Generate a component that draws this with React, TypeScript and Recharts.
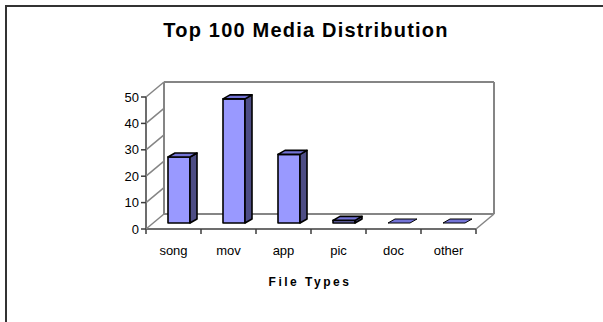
import { BarChart, Bar, XAxis, YAxis, CartesianGrid } from 'recharts'

const categories = ['song', 'mov', 'app', 'pic', 'doc', 'other']
const counts = [25, 47, 26, 1, 0, 0]
const yTicks = [0, 10, 20, 30, 40, 50]

const data = categories.map((name, i) => ({ name, count: counts[i] }))

const W = 603
const H = 322
const FONT = 'Arial, "Liberation Sans", sans-serif'

// depth of the "3d" box (back wall offset) and of each bar
const WALL = { dx: 18, dy: -15 }
const BAR_SHIFT = { dx: 5, dy: -6 }
const BAR_DEPTH = { dx: 7, dy: -4 }

const FRONT = '#9999ff'
const TOP = '#7373d6'
const SIDE = '#4d4d85'
const AXIS = '#3c3c3c'
const WALL_LINE = '#858585'

const margin = { top: 97, right: 127, bottom: 93, left: 146 }

function Bar3D(props: any) {
  const { x, y, width, height } = props
  const x0 = x + BAR_SHIFT.dx
  const y0 = y + BAR_SHIFT.dy
  const h = Math.max(height || 0, 0)
  const { dx, dy } = BAR_DEPTH
  const top = `${x0},${y0} ${x0 + dx},${y0 + dy} ${x0 + width + dx},${y0 + dy} ${x0 + width},${y0}`
  const side = `${x0 + width},${y0} ${x0 + width + dx},${y0 + dy} ${x0 + width + dx},${y0 + h + dy} ${x0 + width},${y0 + h}`
  return (
    <g stroke="#000" strokeWidth={h > 0 ? 1.6 : 1} strokeLinejoin="round">
      {h > 0 && <rect x={x0} y={y0} width={width} height={h} fill={FRONT} />}
      {h > 0 && <polygon points={side} fill={SIDE} />}
      <polygon points={top} fill={TOP} />
    </g>
  )
}

function YTick(props: any) {
  const { x, y, payload } = props
  return (
    <g>
      <line x1={x} y1={y} x2={x + WALL.dx} y2={y + WALL.dy} stroke={WALL_LINE} strokeWidth={1.5} />
      <line x1={x - 5} y1={y} x2={x} y2={y} stroke={AXIS} strokeWidth={1.5} />
      <text x={x - 7} y={y} dy="0.36em" textAnchor="end" fontSize={13} fill="#000" fontFamily={FONT}>
        {payload.value}
      </text>
    </g>
  )
}

function XTick(props: any) {
  const { x, y, payload, index } = props
  const half = payload.offset || 27.5
  const last = index === categories.length - 1
  return (
    <g>
      <line x1={x - half} y1={y} x2={x - half} y2={y + 5} stroke={AXIS} strokeWidth={1.5} />
      {last && (
        <>
          <line x1={x + half} y1={y} x2={x + half} y2={y + 5} stroke={AXIS} strokeWidth={1.5} />
          <line x1={x + half} y1={y} x2={x + half + WALL.dx} y2={y + WALL.dy} stroke={WALL_LINE} strokeWidth={1.5} />
        </>
      )}
      <text x={x} y={y + 26} textAnchor="middle" fontSize={13} fill="#000" fontFamily={FONT}>
        {payload.value}
      </text>
    </g>
  )
}

export default function App() {
  return (
    <div style={{ position: 'absolute', left: 0, top: 0, width: W, height: H, background: '#fff', overflow: 'hidden', fontFamily: FONT }}>
      <div style={{ position: 'absolute', left: 5, top: 5, width: W, height: H, borderLeft: '2px solid #333', borderTop: '2px solid #333' }} />

      {/* back wall */}
      <div style={{ position: 'absolute', left: WALL.dx, top: WALL.dy }}>
        <BarChart width={W} height={H} data={data} margin={margin}>
          <CartesianGrid
            stroke={WALL_LINE}
            strokeWidth={2}
            verticalCoordinatesGenerator={({ offset }: any) => [offset.left, offset.left + offset.width]}
          />
          <XAxis dataKey="name" hide />
          <YAxis domain={[0, 50]} ticks={yTicks} hide />
        </BarChart>
      </div>

      {/* front: bars and axes */}
      <div style={{ position: 'absolute', left: 0, top: 0 }}>
        <BarChart
          width={W}
          height={H}
          data={data}
          margin={{ top: margin.top, right: margin.right, bottom: margin.bottom - 30, left: margin.left - 40 }}
        >
          <XAxis
            dataKey="name"
            height={30}
            tickLine={false}
            tickSize={0}
            tickMargin={0}
            axisLine={{ stroke: AXIS, strokeWidth: 1.5 }}
            tick={<XTick />}
            interval={0}
          />
          <YAxis
            width={40}
            domain={[0, 50]}
            ticks={yTicks}
            tickLine={false}
            tickSize={0}
            tickMargin={0}
            axisLine={{ stroke: AXIS, strokeWidth: 1.5 }}
            tick={<YTick />}
            interval={0}
          />
          <Bar dataKey="count" barSize={22} shape={<Bar3D />} isAnimationActive={false} />
        </BarChart>
      </div>

      <div style={{ position: 'absolute', left: 0, width: 612, top: 20, textAlign: 'center', fontSize: 20, lineHeight: '20px', fontWeight: 'bold', letterSpacing: 1.2, color: '#000' }}>
        Top 100 Media Distribution
      </div>
      <div style={{ position: 'absolute', left: 0, width: 620, top: 276, textAlign: 'center', fontSize: 12, lineHeight: '12px', fontWeight: 'bold', letterSpacing: 2.5, color: '#000' }}>
        File Types
      </div>
    </div>
  )
}
